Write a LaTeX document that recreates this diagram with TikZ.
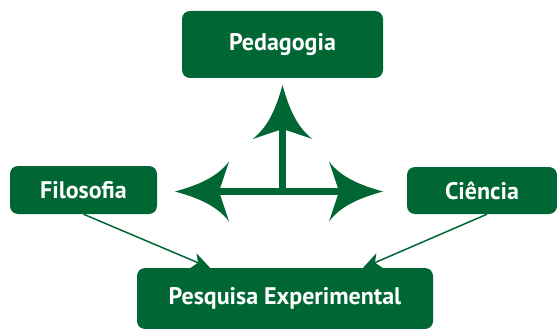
\documentclass[tikz,border=0pt]{standalone}
\usepackage{fontspec}
\setmainfont{PT Sans}
\usetikzlibrary{arrows.meta}
\definecolor{mossgreen}{RGB}{0,102,51}
\tikzset{
	every box/.style={
		rounded corners=8pt,
		fill=mossgreen,
		text=white,
		inner sep=0pt,
		font=\bfseries\fontsize{24}{28}\selectfont
	},
	shaft/.style={
		draw=mossgreen,
		line width=7pt
	},
	bighead/.pic={
		\fill [mossgreen] (0,0) .. controls (-22,6) and (-42,14) .. (-54,30)
			-- (-44,0) -- (-54,-30) .. controls (-42,-14) and (-22,-6) .. (0,0) -- cycle;
	},
}

\begin{document}
\begin{tikzpicture}[x=1pt, y=-1pt, >={Stealth[length=18pt, width=16pt, inset=5pt]}]
\useasboundingbox (0,0) rectangle (557,329);

\foreach \n/\t/\x/\y/\w/\h in {ped/Pedagogia/282.5/44.5/201/67,
		fil/Filosofia/83.5/190/147/48,
		cie/Ciência/482/190.5/150/47,
		pes/Pesquisa Experimental/285/298.5/296/61}
	\node [every box, minimum width=\w pt, minimum height=\h pt] (\n) at (\x,\y) {\t};

% central symbol
\coordinate (hub) at (282.5,191.5);
\coordinate (tip-l) at (175,191.5);
\coordinate (tip-r) at (383,191.5);
\coordinate (tip-u) at (282.5,85);

\draw [shaft, shorten <=30pt, shorten >=30pt] (tip-l) -- (tip-r);
\draw [shaft, shorten >=30pt] (hub) -- (tip-u);

\foreach \p/\r in {l/180, r/0, u/90}
	\pic [rotate=\r] at (tip-\p) {bighead};

% links to the bottom box
\draw [->, mossgreen, line width=1.5pt] (fil.south) -- ([xshift=-75pt]pes.north);
\draw [->, mossgreen, line width=1.5pt] ([xshift=5pt]cie.south) -- ([xshift=78pt]pes.north);

\end{tikzpicture}
\end{document}
